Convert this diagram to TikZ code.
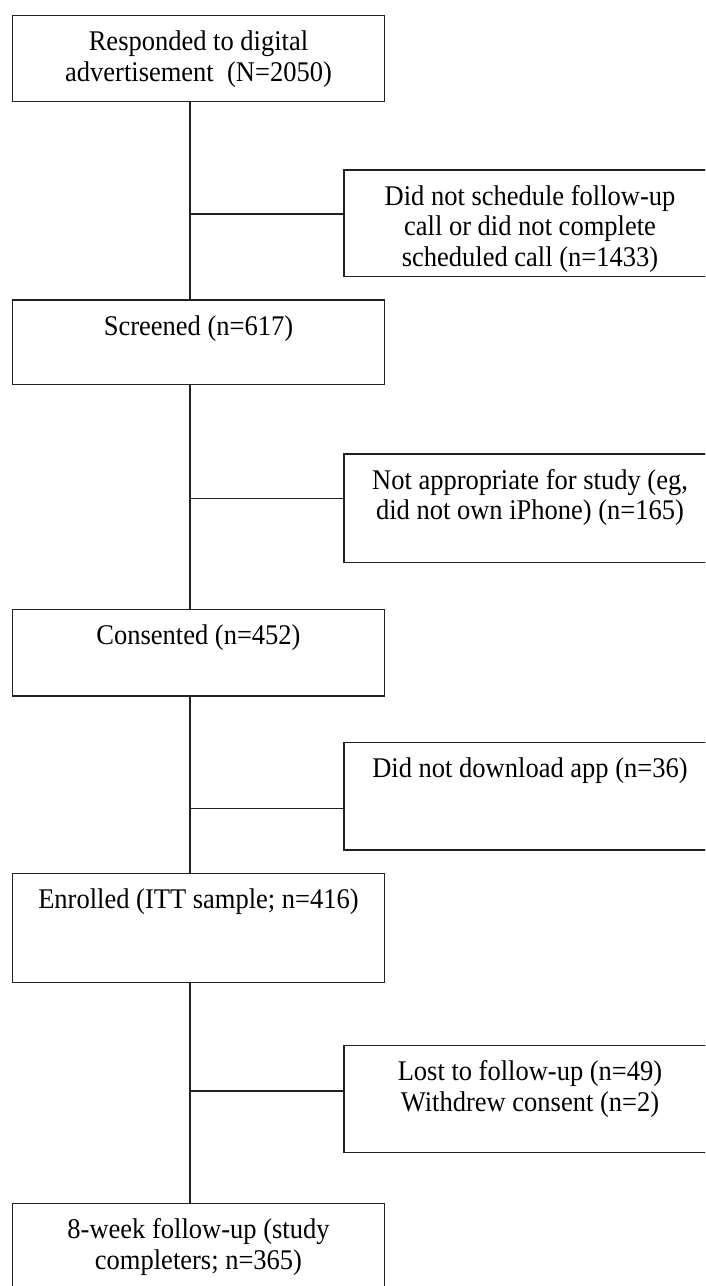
\documentclass[tikz,border=0pt]{standalone}
\usepackage{fontspec}
\setmainfont{Liberation Serif}[FakeStretch=0.93]
\definecolor{linec}{gray}{0.13}
\begin{document}
\begin{tikzpicture}[x=1pt,y=-1pt,
  lbox/.style={draw=linec, line width=1.4pt, inner sep=0pt, outer sep=0pt,
               minimum width=371.8pt, anchor=north west},
  rbox/.style={draw=linec, line width=1.4pt, inner sep=0pt, outer sep=0pt,
               minimum width=372pt, anchor=north west},
  txt/.style={anchor=north, inner sep=0pt, align=center, text=black,
              font=\fontsize{28.5}{30.5}\selectfont},
  conn/.style={draw=linec, line width=1.4pt}]
\useasboundingbox (0,0) rectangle (705,1286);
\clip (0,0) rectangle (705,1286);
\fill[white] (0,0) rectangle (705,1286);

% main column boxes
\node[lbox, minimum height=86.4pt]  (b1) at (12.6,15.3)   {};
\node[lbox, minimum height=84.3pt]  (b2) at (12.6,300)    {};
\node[lbox, minimum height=86.7pt]  (b3) at (12.6,609.3)  {};
\node[lbox, minimum height=109pt]   (b4) at (12.6,873.3)  {};
\node[lbox, minimum height=100pt]   (b5) at (12.6,1203.3) {};

% exclusion boxes
\node[rbox, minimum height=106.7pt] (r1) at (344,170)    {};
\node[rbox, minimum height=108.7pt] (r2) at (344,454)    {};
\node[rbox, minimum height=107.7pt] (r3) at (344,742.3)  {};
\node[rbox, minimum height=107pt]   (r4) at (344,1045.7) {};

% texts
\node[txt] (t1) at ([yshift=-13.65pt]b1.north) {\strut Responded to digital\\advertisement\ \ (N=2050)};
\node[txt] (t2) at ([yshift=-13.65pt]b2.north) {\strut Screened (n=617)};
\node[txt] (t3) at ([yshift=-13.65pt]b3.north) {\strut Consented (n=452)};
\node[txt] (t4) at ([yshift=-13.65pt]b4.north) {\strut Enrolled (ITT sample; n=416)};
\node[txt] (t5) at ([yshift=-13.65pt]b5.north) {\strut 8-week follow-up (study\\completers; n=365)};

\node[txt] (u1) at ([yshift=-13.65pt]r1.north) {\strut Did not schedule follow-up\\call or did not complete\\scheduled call (n=1433)};
\node[txt] (u2) at ([yshift=-13.65pt]r2.north) {\strut Not appropriate for study (eg,\\did not own iPhone) (n=165)};
\node[txt] (u3) at ([yshift=-13.65pt]r3.north) {\strut Did not download app (n=36)};
\node[txt] (u4) at ([yshift=-13.65pt]r4.north) {\strut Lost to follow-up (n=49)\\Withdrew consent (n=2)};

% junctions on the spine
\coordinate (j1) at (190,214);
\coordinate (j2) at (190,498.3);
\coordinate (j3) at (190,808.7);
\coordinate (j4) at (190,1091);

% spine
\draw[conn] (b1.south -| j1) -- (b2.north -| j1);
\draw[conn] (b2.south -| j2) -- (b3.north -| j2);
\draw[conn] (b3.south -| j3) -- (b4.north -| j3);
\draw[conn] (b4.south -| j4) -- (b5.north -| j4);

% branches
\draw[conn] (j1) -- (j1 -| r1.west);
\draw[conn] (j2) -- (j2 -| r2.west);
\draw[conn] (j3) -- (j3 -| r3.west);
\draw[conn] (j4) -- (j4 -| r4.west);
\end{tikzpicture}
\end{document}
